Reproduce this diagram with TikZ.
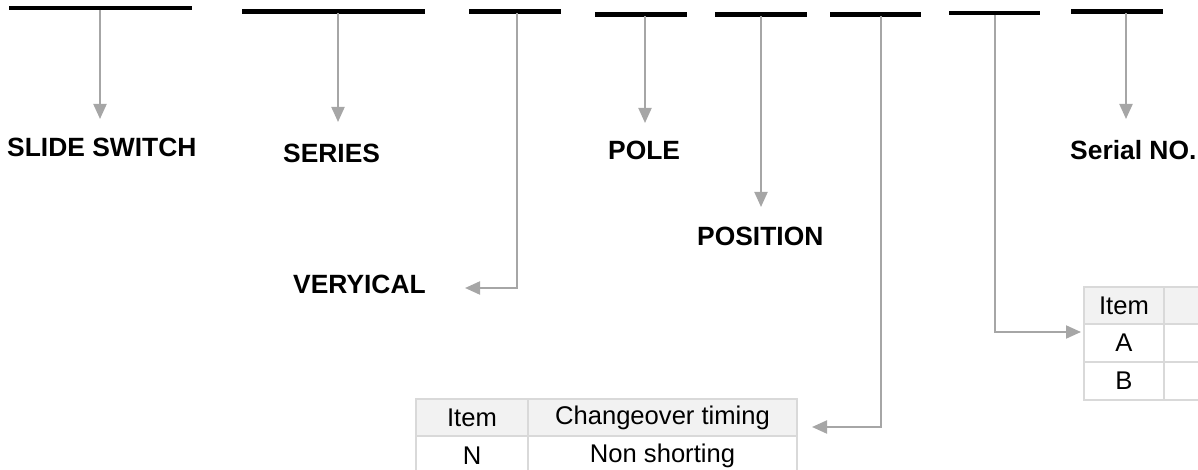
\documentclass[tikz,border=0pt]{standalone}
\usepackage{fontspec}
\setmainfont{Liberation Sans}
\usetikzlibrary{arrows.meta}
\definecolor{arr}{HTML}{A6A6A6}
\definecolor{tline}{HTML}{D9D9D9}
\definecolor{thead}{HTML}{F2F2F2}
\tikzset{
  bar/.style={line width=4.5pt,black},
  conn/.style={line width=2pt,arr,-{Triangle[length=15pt,width=13pt]}},
  lab/.style={anchor=base west,inner sep=0pt,font=\fontsize{26.4}{30}\selectfont\bfseries},
  cell/.style={inner sep=0pt,font=\fontsize{25.6}{30}\selectfont},
  grid/.style={line width=1.5pt,tline}
}
\begin{document}
\begin{tikzpicture}[x=1pt,y=-1pt]
\useasboundingbox (0,0) rectangle (1198,470);
\clip (0,0) rectangle (1198,470);
% bars
\draw[bar] (9,8) -- (192,8);
\draw[bar] (242,11.5) -- (425,11.5);
\draw[bar] (469,11.5) -- (561,11.5);
\draw[bar] (595,14.5) -- (687,14.5);
\draw[bar] (715,14.5) -- (807,14.5);
\draw[bar] (830,14.5) -- (921,14.5);
\draw[bar] (949,13) -- (1040,13);
\draw[bar] (1071,11.4) -- (1163,11.4);
\coordinate (s1) at (100,10);
\coordinate (s2) at (338,13.5);
\coordinate (s3) at (517,13.5);
\coordinate (s4) at (645,16.5);
\coordinate (s5) at (761,16.5);
\coordinate (s6) at (881,16.5);
\coordinate (s7) at (995,15);
\coordinate (s8) at (1126,13.4);
% labels
\node[lab] (l1) at (7,157) {SLIDE SWITCH};
\node[lab] (l2) at (283,163) {SERIES};
\node[lab] (l4) at (608,160) {POLE};
\node[lab] (l8) at (1070,160) {Serial NO.};
\node[lab] (l3) at (293,293) {VERYICAL};
\node[lab] (l5) at (697,245) {POSITION};
% tables
\fill[thead] (416,399) rectangle (797,436);
\draw[grid] (416,399) rectangle (797,480);
\draw[grid] (416,436) -- (797,436);
\draw[grid] (528,399) -- (528,480);
\node[cell] (ta1) at (472,417.5) {Item};
\node[cell] (ta2) at (662.5,417.5) {Changeover timing};
\node[cell] (ta3) at (472,456) {N};
\node[cell] (ta4) at (662.5,456) {Non shorting};
\fill[thead] (1084,287) rectangle (1210,324);
\draw[grid] (1084,287) rectangle (1210,400);
\draw[grid] (1084,324) -- (1210,324);
\draw[grid] (1084,362) -- (1210,362);
\draw[grid] (1164,287) -- (1164,400);
\node[cell] (tb1) at (1124,305.5) {Item};
\node[cell] (tb2) at (1124,343) {A};
\node[cell] (tb3) at (1124,381) {B};
% arrow ends
\coordinate (e1) at (100,119);
\coordinate (e2) at (338,122);
\coordinate (e4) at (645,123);
\coordinate (e8) at (1126,119);
\coordinate (e5) at (761,207);
\coordinate (c3) at (517,288);
\coordinate (e3) at (465,288);
\coordinate (c6) at (881,427);
\coordinate (e6) at (812,427);
\coordinate (c7) at (995,332);
\coordinate (e7) at (1081,332);
% connectors
\draw[conn] (s1) -- (e1);
\draw[conn] (s2) -- (e2);
\draw[conn] (s4) -- (e4);
\draw[conn] (s8) -- (e8);
\draw[conn] (s5) -- (e5);
\draw[conn] (s3) -- (c3) -- (e3);
\draw[conn] (s6) -- (c6) -- (e6);
\draw[conn] (s7) -- (c7) -- (e7);
\end{tikzpicture}
\end{document}
